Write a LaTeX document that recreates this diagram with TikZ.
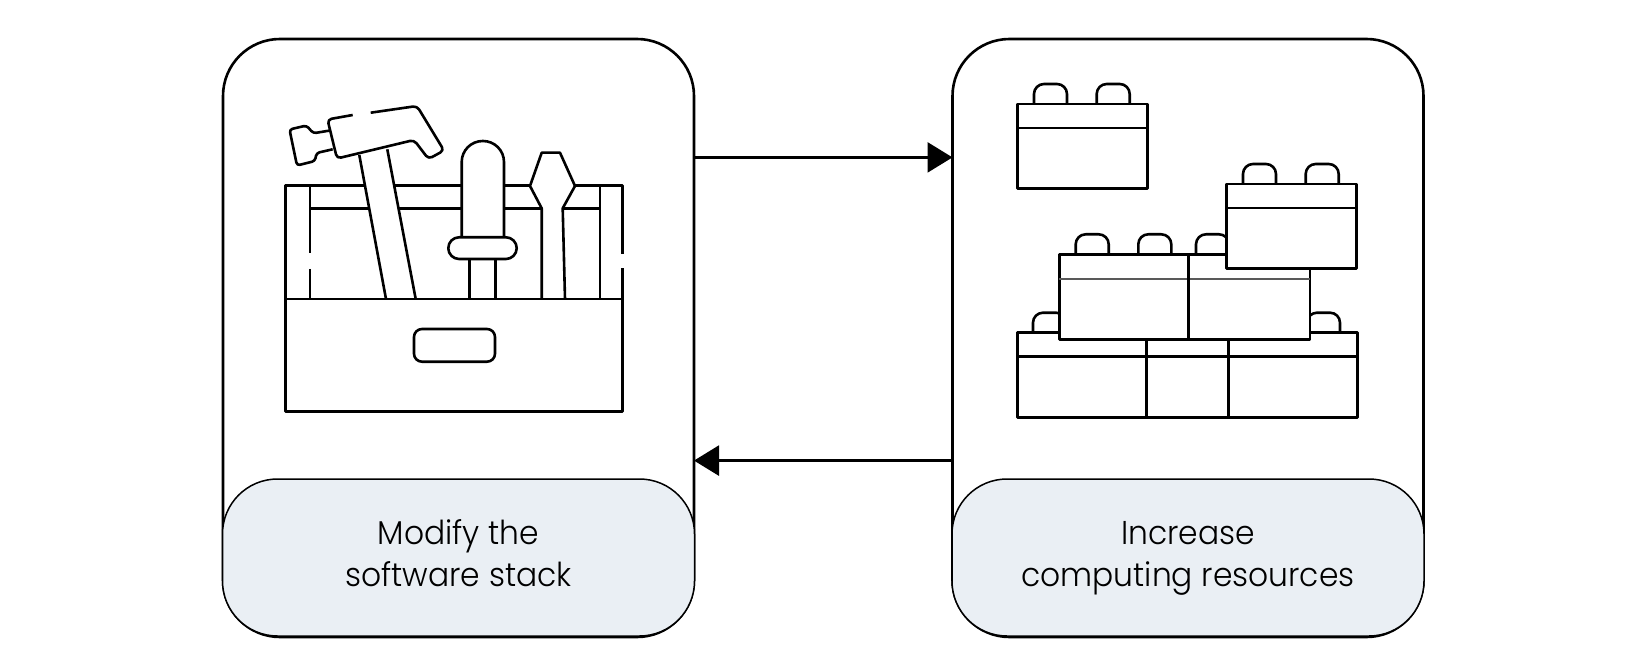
\documentclass[tikz,border=0pt]{standalone}
\usepackage{fontspec}
\setmainfont{Poppins Light}[FakeStretch=0.95]
\usetikzlibrary{calc,positioning,arrows.meta}

\definecolor{labelfill}{HTML}{EAEFF4}
\tikzset{
    ink/.style={draw=black,line width=2.6pt,line join=round},
    panel/.style={ink,fill=white,rounded corners=57pt,minimum width=471pt,minimum height=598pt,outer sep=0pt},
    labelbox/.style={draw=black,line width=1.5pt,fill=labelfill,rounded corners=55pt,minimum width=472pt,
        minimum height=157pt,outer sep=0pt,align=center,font=\fontsize{33}{41.7}\selectfont},
}
\newcommand{\stud}[2]{\draw[ink,rounded corners=10pt] (#1,#2) -- ++(0,-20) -- ++(33,0) -- ++(0,20);}

\begin{document}
\begin{tikzpicture}[x=1pt,y=-1pt,>={Triangle[length=25pt,width=30pt]}]
    \useasboundingbox (0,0) rectangle (1650,671);
    \node[panel] (Tools) at (458.5,338) {};
    \node[panel] (Bricks) at (1188,338) {};
    \node[labelbox] (ToolsLabel) at (458.5,557.5) {\strut Modify the\\\strut software stack};
    \node[labelbox] (BricksLabel) at (1188,557.5) {\strut Increase\\\strut computing resources};
    %
    \draw[ink,->] ($(Tools.north east)!0.198!(Tools.south east)$) -- ($(Bricks.north west)!0.198!(Bricks.south west)$);
    \draw[ink,<-] ($(Tools.north east)!0.705!(Tools.south east)$) -- ($(Bricks.north west)!0.705!(Bricks.south west)$);
    %
    % toolbox
    \draw[ink] (285.5,185.7) rectangle (622.5,411.7);
    \fill[white] (620,254.5) rectangle (625,268.5);
    \draw[ink] (310,208.3) -- (600,208.3);
    \draw[ink] (310,185.7) -- (310,253);
    \draw[ink] (310,269) -- (310,299);
    \draw[ink] (600,185.7) -- (600,299);
    \draw[ink,rounded corners=8pt] (414,329) rectangle (495,361.7);
    %
    % hammer
    \fill[white] (359.3,155) -- (386,297.8) -- (415.7,297.8) -- (387.3,149.3) -- cycle;
    \draw[ink] (359.3,155) -- (386,299);
    \draw[ink] (387.3,149.3) -- (415.7,299);
    \draw[ink,rounded corners=3pt] (332.7,149.3) -- (316.5,153) -- (315,161) -- (297,165.5) -- (289.5,129.5) -- (306.5,125.5) -- (313.3,133.3) -- (330,130.5);
    \draw[ink,fill=white,rounded corners=4pt] (352.7,115) -- (327.5,119.5) -- (337,158.5) -- (414,140) -- (428.5,159) -- (444,150.5) -- (417,106) -- (370.7,112.7);
    %
    % screwdrivers
    \draw[ink,fill=white,rounded corners=21pt] (461.7,240) -- (461.7,141) -- (504,141) -- (504,240);
    \draw[ink,fill=white,rounded corners=10.8pt] (448.3,237.3) rectangle (516.7,259);
    \draw[ink] (469.3,259) -- (469.3,299);
    \draw[ink] (495.7,259) -- (495.7,299);
    \fill[white] (541.7,299) -- (541.7,208.3) -- (530,186) -- (541.7,152.7) -- (560,152.7) -- (575,186) -- (562.7,208.3) -- (565,299) -- cycle;
    \draw[ink] (541.7,299) -- (541.7,208.3) -- (530,186) -- (541.7,152.7) -- (560,152.7) -- (575,186) -- (562.7,208.3) -- (565,299);
    \draw[ink] (285.5,299) -- (622.5,299);
    %
    % bottom row of bricks
    \stud{1033}{332.7}
    \stud{1307}{332.7}
    \draw[ink,fill=white] (1017.7,332.7) rectangle (1357.7,417.3);
    \draw[ink] (1017.7,356.7) -- (1357.7,356.7);
    \draw[ink] (1146.7,332.7) -- (1146.7,417.3);
    \draw[ink] (1228.3,332.7) -- (1228.3,417.3);
    %
    % middle row
    \foreach \x in {1075.7,1138.3,1196} {
        \stud{\x}{254.3}
    }
    \draw[ink,fill=white] (1059.3,254.3) rectangle (1310,339.3);
    \draw[line width=1.5pt,black!65] (1059.3,279) -- (1310,279);
    \draw[ink] (1188.7,254.3) -- (1188.7,339.3);
    %
    % loose bricks
    \foreach \x/\y in {1017.7/104,1226.7/184} {
        \stud{\x+16.3}{\y}
        \stud{\x+79}{\y}
        \draw[ink,fill=white] (\x,\y) rectangle (\x+129.8,\y+84.7);
        \draw[ink] (\x,\y+24.2) -- (\x+129.8,\y+24.2);
    }
\end{tikzpicture}
\end{document}
